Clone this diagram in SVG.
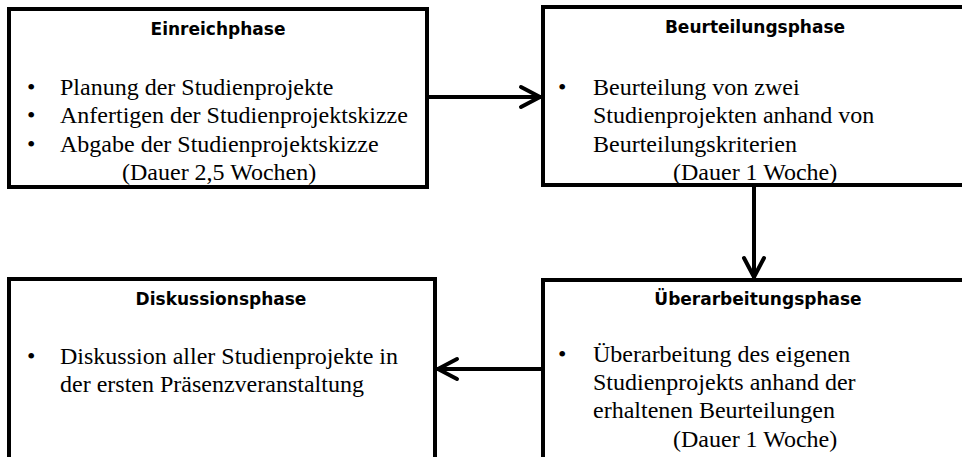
<svg xmlns="http://www.w3.org/2000/svg" width="962" height="457" viewBox="0 0 962 457">
  <style>
    .box { fill: #ffffff; stroke: #000000; stroke-width: 4; }
    .title { font-family: "DejaVu Sans", "Liberation Sans", sans-serif; font-weight: bold; font-size: 17px; fill: #000000; text-anchor: middle; }
    .body { font-family: "Liberation Serif", "Times New Roman", serif; font-size: 24px; fill: #000000; }
    .conn { fill: none; stroke: #000000; stroke-width: 4; }
  </style>
  <defs>
    <marker id="chev" viewBox="-24 -14 28 28" refX="0" refY="0" markerWidth="28" markerHeight="28" markerUnits="userSpaceOnUse" orient="auto">
      <path d="M-20,-10 L-1,0 L-20,10" fill="none" stroke="#000000" stroke-width="4" stroke-linejoin="round" stroke-linecap="round"/>
    </marker>
  </defs>
  <rect width="962" height="457" fill="#ffffff"/>

  <g id="einreichphase">
    <rect class="box" x="9" y="9" width="418" height="178"/>
    <text class="title" x="218" y="35">Einreichphase</text>
    <text class="body" x="27" y="95">•</text>
    <text class="body" x="60" y="95">Planung der Studienprojekte</text>
    <text class="body" x="27" y="123">•</text>
    <text class="body" x="60" y="123">Anfertigen der Studienprojektskizze</text>
    <text class="body" x="27" y="152">•</text>
    <text class="body" x="60" y="152">Abgabe der Studienprojektskizze</text>
    <text class="body" x="122" y="180">(Dauer 2,5 Wochen)</text>
  </g>

  <g id="beurteilungsphase">
    <rect class="box" x="543" y="7" width="440" height="178"/>
    <text class="title" x="755" y="33">Beurteilungsphase</text>
    <text class="body" x="558" y="95">•</text>
    <text class="body" x="593" y="95">Beurteilung von zwei</text>
    <text class="body" x="593" y="123">Studienprojekten anhand von</text>
    <text class="body" x="593" y="152">Beurteilungskriterien</text>
    <text class="body" x="673" y="180">(Dauer 1 Woche)</text>
  </g>

  <g id="diskussionsphase">
    <rect class="box" x="9" y="279" width="426" height="200"/>
    <text class="title" x="221" y="305">Diskussionsphase</text>
    <text class="body" x="27" y="364">•</text>
    <text class="body" x="60" y="364">Diskussion aller Studienprojekte in</text>
    <text class="body" x="60" y="392">der ersten Präsenzveranstaltung</text>
  </g>

  <g id="ueberarbeitungsphase">
    <rect class="box" x="543" y="280" width="440" height="200"/>
    <text class="title" x="758" y="305">Überarbeitungsphase</text>
    <text class="body" x="558" y="362">•</text>
    <text class="body" x="593" y="362">Überarbeitung des eigenen</text>
    <text class="body" x="593" y="390">Studienprojekts anhand der</text>
    <text class="body" x="593" y="418">erhaltenen Beurteilungen</text>
    <text class="body" x="673" y="447">(Dauer 1 Woche)</text>
  </g>

  <g id="connectors">
    <line class="conn" x1="429" y1="97" x2="541" y2="97" marker-end="url(#chev)"/>
    <line class="conn" x1="754" y1="187" x2="754" y2="278" marker-end="url(#chev)"/>
    <line class="conn" x1="541" y1="369" x2="437" y2="369" marker-end="url(#chev)"/>
  </g>
</svg>
